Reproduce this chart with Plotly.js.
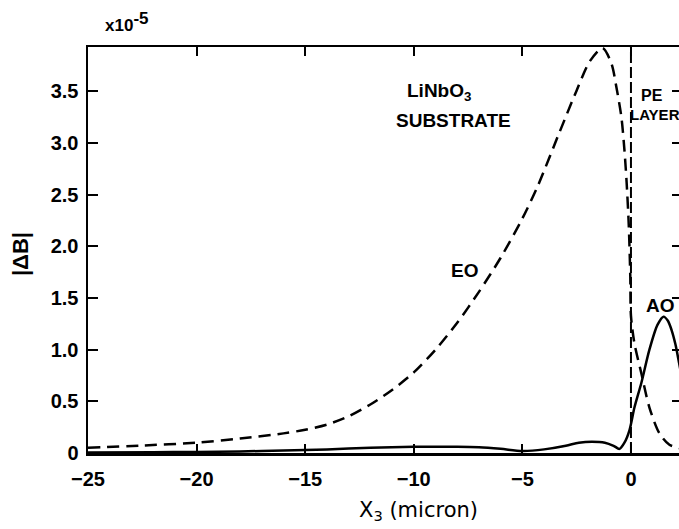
<!DOCTYPE html>
<html>
<head>
<meta charset="utf-8">
<script src="https://cdn.plot.ly/plotly-3.0.1.min.js"></script>
<style>
html,body{margin:0;padding:0;overflow:hidden;background:#fff;width:679px;height:529px;}
#chart{width:690px;height:529px;}
</style>
</head>
<body>
<div id="chart"></div>
<script>
// EO (electro-optic) contribution, dashed curve, units of 1e-5
const eoX = [-25, -22.5, -20, -18, -16, -15, -14, -13, -12, -11, -10, -9, -8, -7, -6, -5, -4.3, -3.3, -2.5, -1.9, -1.31, -0.9, -0.67, -0.44, -0.3, -0.2, -0.1, -0.03, 0, 0.16, 0.48, 0.85, 1.31, 1.77, 2.19, 2.35];
const eoY = [0.05, 0.072, 0.10, 0.14, 0.19, 0.225, 0.275, 0.355, 0.47, 0.61, 0.78, 1.00, 1.26, 1.56, 1.89, 2.27, 2.58, 3.10, 3.51, 3.79, 3.92, 3.77, 3.54, 3.25, 2.93, 2.62, 2.2, 1.7, 1.33, 1.06, 0.77, 0.44, 0.19, 0.08, 0.05, 0.04];
// AO (acousto-optic) contribution, solid curve
const aoX = [-25, -22, -20, -18, -16, -14, -12, -10, -8, -7, -6, -5, -4, -3, -2.4, -1.8, -1.2, -0.8, -0.53, -0.3, -0.07, 0.16, 0.48, 0.85, 1.22, 1.5, 1.7, 1.87, 2.05, 2.19, 2.35];
const aoY = [0.005, 0.008, 0.01, 0.015, 0.025, 0.035, 0.05, 0.06, 0.06, 0.055, 0.04, 0.02, 0.035, 0.07, 0.10, 0.11, 0.10, 0.07, 0.04, 0.10, 0.22, 0.44, 0.68, 1.00, 1.24, 1.32, 1.28, 1.19, 1.05, 0.90, 0.72];
// interface between LiNbO3 substrate and PE layer
const interfaceX = [0, 0];
const interfaceY = [0, 3.93];

const xTickVals = [-25, -20, -15, -10, -5, 0];
const xTickText = ["\u221225", "\u221220", "\u221215", "\u221210", "\u22125", "0"];
const yTickVals = [0, 0.5, 1.0, 1.5, 2.0, 2.5, 3.0, 3.5];
const yTickText = ["0", "0.5", "1.0", "1.5", "2.0", "2.5", "3.0", "3.5"];

const FONT = "Liberation Sans, Arial, sans-serif";
const tickFont = {family: FONT, size: 20, color: "#000", weight: "bold"};

const traces = [
  {x: eoX, y: eoY, type: "scatter", mode: "lines", line: {color: "#000", width: 2.5, dash: "12px,7px", shape: "spline", smoothing: 0.8}, hoverinfo: "skip"},
  {x: aoX, y: aoY, type: "scatter", mode: "lines", line: {color: "#000", width: 2.5, shape: "spline", smoothing: 0.8}, hoverinfo: "skip"},
  {x: interfaceX, y: interfaceY, type: "scatter", mode: "lines", line: {color: "#000", width: 2, dash: "11px,4px"}, hoverinfo: "skip"}
];

const ann = (x, y, text, extra) => Object.assign({x, y, xref: "x", yref: "y", text, showarrow: false,
  font: {family: FONT, size: 19, color: "#000", weight: "bold"}}, extra || {});

const layout = {
  width: 690, height: 529,
  margin: {l: 88, r: 8, t: 47, b: 76},
  paper_bgcolor: "#fff", plot_bgcolor: "#fff",
  showlegend: false,
  xaxis: {
    range: [-25, 2.35], tickvals: xTickVals, ticktext: xTickText,
    ticks: "inside", ticklen: 9, tickwidth: 2, tickcolor: "#000",
    showline: true, linewidth: 2.5, linecolor: "#000", mirror: "ticks",
    showgrid: false, zeroline: false, tickfont: tickFont, ticklabelstandoff: 6
  },
  yaxis: {
    range: [0, 3.93], tickvals: yTickVals, ticktext: yTickText,
    ticks: "inside", ticklen: 10, tickwidth: 2, tickcolor: "#000",
    showline: true, linewidth: 2.5, linecolor: "#000", mirror: "ticks",
    showgrid: false, zeroline: false, tickfont: tickFont, ticklabelstandoff: 3
  },
  annotations: [
    ann(-10.4, 3.49, "LiNbO<sub>3</sub>", {xanchor: "left"}),
    ann(-10.89, 3.22, "SUBSTRATE", {xanchor: "left"}),
    ann(-7.66, 1.77, "EO"),
    ann(1.34, 1.43, "AO"),
    ann(0.97, 3.46, "PE", {font: {family: FONT, size: 16, color: "#000", weight: "bold"}}),
    ann(1.11, 3.28, "LAYER", {font: {family: FONT, size: 15, color: "#000", weight: "bold"}}),
    {xref: "paper", yref: "paper", x: 0.0253, y: 1.062, xanchor: "left", yanchor: "middle", showarrow: false,
     text: "x10<sup><span style=\"font-size:17px\">-5</span></sup>", font: {family: FONT, size: 17, color: "#000", weight: "bold"}},
    {xref: "paper", yref: "paper", x: -0.1145, y: 0.49, xanchor: "center", yanchor: "middle", showarrow: false,
     textangle: -90, text: "|\u0394B|", font: {family: FONT, size: 22, color: "#000", weight: "bold"}},
    {xref: "paper", yref: "paper", x: 0.453, y: -0.143, xanchor: "left", yanchor: "middle", showarrow: false,
     text: "X<sub>3</sub> (micron)", font: {family: "DejaVu Sans, sans-serif", size: 21, color: "#000"}}
  ]
};

Plotly.newPlot("chart", traces, layout, {displayModeBar: false, staticPlot: true});
</script>
</body>
</html>
